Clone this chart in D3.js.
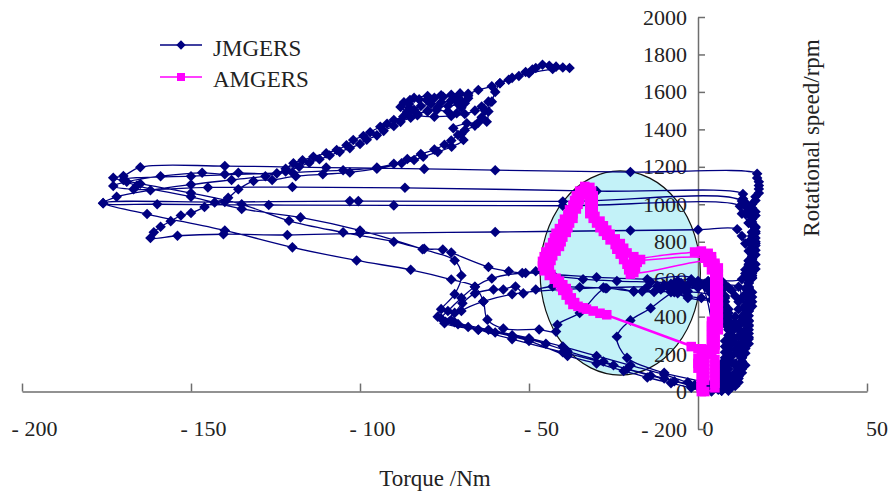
<!DOCTYPE html>
<html><head><meta charset="utf-8">
<script src="https://cdn.jsdelivr.net/npm/d3@7"></script>
<style>body{margin:0;background:#fff}svg{display:block}text{font-family:"Liberation Serif","Times New Roman",serif;fill:#222}</style>
</head><body><svg id="c" width="890" height="492"></svg>
<script>
const seriesNames = ["JMGERS", "AMGERS"];
const xTicks = [-200, -150, -100, -50, 0, 50];
const yTicks = [-200, 0, 200, 400, 600, 800, 1000, 1200, 1400, 1600, 1800, 2000];
const xTitle = "Torque /Nm";
const yTitle = "Rotational speed/rpm";
// highlighted region (torque, speed) centre and radii
const ellipseCentre = [-23, 633];
const ellipseRadii = [23.7, 545];

// JMGERS: [torque Nm, speed rpm]
const jmgers = [
[4,0],[7,5],[9,12],[10,25],[11,40],[11,60],[12,80],[12,100],[12,123],[13,140],[13,160],[13,180],[13,200],[13,215],[13,230],[14,250],[14,270],[15,290],[15,310],[15,330],[15,350],[15,375],[14,395],[14,420],[14,440],[14,460],[15,480],[15,500],[14,520],[15,540],[15,560],[15,580],[15,600],[16,620],[16,640],[15,660],[15,680],[15,697],[16,720],[16,740],[16,760],[16,780],[17,800],[17,820],[17,845],[17,875],[16,895],[16,920],[17,940],[17,960],[16,980],[16,1000],[17,1020],[17,1040],[18,1060],[18,1082],[18,1100],[18,1120],[17.5,1140],[17.5,1163],
[-20,1172],[-60,1182],[-81,1189],[-110,1196],[-140,1204],[-165,1198],[-170,1151],[-173,1141],[-165,1110],[-150,1060],[-135,1000],[-121,912],[-105,850],[-90,800],[-81,762],[-75.5,758],[-73,742],[-62,665],[-56,642],[-51,633],[-48,642],[-43,620],[-34,600],[-24,590],[-14,585],[-7,580],[-1,575],[5,570],
[7,540],[7,520],[8,500],[8,480],[8,460],[9,440],[9,420],[9,400],[9,380],[10,360],[10,340],[10,320],[10,300],[10,280],[10,260],[9,240],[9,220],[9,200],[9,180],[8,160],[8,140],[8,120],[8,100],[7,80],[7,60],[7,45],[7,30],[6,10],
[9,5],[11,30],[12,50],[12,70],[13,100],[13,120],[14,140],[13,160],[13,180],[14,205],[14,230],[15,255],[15,280],[14,305],[14,330],[15,355],[15,380],[15,405],[15,430],[16,455],[16,480],[16,505],[16,530],[15,555],[15,580],[16,605],[16,630],[17,655],[17,680],[16,705],[16,730],[17,755],[17,780],[16,805],[16,830],[17,855],[17,880],[16,905],[16,930],[15,950],[15,970],[14,990],[14,1010],[13.3,1030],[13.3,1055],
[-30,1070],[-86.7,1088],[-120,1092],[-145,1090],[-167,1080],[-173,1098],[-169,1120],[-159,1150],[-146.7,1168],[-140,1160],[-136,1168],[-124.6,1165],
[-122,1190],[-119.7,1219],[-117,1235],[-113.8,1254],[-110,1272],[-106.9,1290],[-104,1315],[-102,1343],[-99,1365],[-97,1385],[-94,1414],[-92,1430],[-90,1450],[-87.2,1468],[-86,1490],[-85.5,1515],[-85.5,1535],[-85.2,1557],[-82.5,1560],[-80.3,1557],[-78,1568],[-75.4,1574],[-73,1585],[-70.4,1592],[-68,1580],[-68,1566],[-69,1540],[-70,1515],[-71.4,1486],[-74,1495],[-77.3,1503],[-80,1495],[-83.2,1486],[-84,1505],[-82,1525],[-79,1535],[-76,1545],[-73,1555],[-71,1570],[-68,1590],[-65,1610],[-61,1630],[-58.6,1646],[-56,1665],[-53,1685],[-51,1706],[-49,1720],[-48,1728],[-46,1745],[-44,1740],[-42,1735],[-40,1730],[-38,1728],[-43,1722],[-50,1700],[-55,1675],[-58.6,1646],[-60,1600],[-61,1548],[-62,1495],[-62.5,1441],[-65,1436],[-68.4,1432],[-72.4,1406],[-70,1375],[-69.4,1343],[-72.9,1307],
[-77,1280],[-81.3,1254],[-84,1236],[-87.7,1219],[-95,1190],[-103,1170],[-111,1160],[-119,1150],[-126,1130],[-131.5,1124],[-136,1080],[-139,1035],[-143,1010],[-146,985],[-150,953],[-153,940],[-156,910],[-159,880],[-161,850],[-162,820],
[-154,832],[-140.4,840],[-121.5,836],[-100,845],[-60,852],[-20,860],[0,864],[11.6,867],
[13,830],[14,790],[15,750],[16,710],[15,670],[14,630],[13,600],[7,590],[3,588],[0,585],[-5,580],[-9,560],[-11,545],[-8,530],[-4,540],[0,555],[3,545],[6,530],[8,510],[5,495],[1,500],[-3,510],[-6,525],[-10,570],[-6,590],[-2,600],[3,590],[7,575],[9,555],[6,560],[2,565],[-3,570],[-8,575],[-12,565],[-7,550],[-3,535],[4,520],[7,510],[4,490],[-3,500],[-7,530],
[-13,532],[-19,535],[-27,552],[-35,557],[-43,561],[-48,545],[-51.7,524],[-54,561],[-57.6,545],[-60.5,545],[-66,524],[-69.7,471],[-72,420],[-74.7,373],[-68,345],[-60,315],[-50,270],[-38.6,190],[-30,150],[-22,110],[-15,75],[-8,45],[-2,20],[4,5],
[8,20],[10,60],[11,100],[11,150],[12,200],[12,250],[13,300],[12,350],[13,400],[14,450],[13,500],[14,550],[15,600],[14,650],[15,700],[16,750],[15,800],[16,850],[15,900],[14,950],[13,1017],
[-40,1015],[-100.5,1017],[-103,1017],[-140,1012],[-176,1006],
[-163,948],[-140,860],[-120,770],[-101,700],[-85,650],[-73,598],[-66,560],[-63.5,481],[-62.3,384],[-57.6,336],[-47,331],[-42,320],[-41.6,357],[-35,420],[-27.4,552],[-19,535],[-16.5,535],[-5,560],[2,575],
[6,540],[7,510],[7,480],[8,450],[8,420],[8,390],[8,360],[9,330],[9,300],[8,270],[8,240],[8,210],[8,180],[7,150],[7,120],[6,90],[6,60],[5,40],[5,20],
[9,30],[11,80],[12,130],[13,190],[13,250],[14,310],[14,370],[15,430],[15,490],[15,550],[16,610],[16,670],[17,730],[17,790],[16,850],[15,900],[13,950],[12.4,990],
[-40,992],[-90,994],[-127,996],[-160,1000],[-176,1006],[-172,1040],[-162,1075],[-150,1105],[-138,1130],[-128,1150],[-122,1175],[-118,1200],[-115,1222],[-112,1240],[-109,1260],[-106,1280],[-103,1300],[-100,1322],[-98,1345],[-95,1368],[-93,1392],[-90,1418],[-88,1440],[-85,1462],[-83,1480],[-80,1500],[-77,1518],[-74,1525],[-71,1535],[-70,1550],[-72,1565],[-76,1582],[-80,1578],[-84,1568],[-87,1545],[-88,1520],[-86,1495],[-83,1475],[-78,1468],[-73,1472],[-69,1482],[-66,1500],[-64,1522],[-62,1548],
[-63,1500],[-64,1465],[-66,1420],[-69,1395],[-71,1370],[-73,1340],[-75,1318],[-78,1292],[-82,1268],[-86,1242],[-90,1216],[-95,1196],[-105,1182],[-120,1170],[-150,1150],[-170,1130],[-166,1100],[-150,1040],[-135,975],[-117.6,930],[-100,860],[-81.5,760],[-72,700],[-70,620],[-72,520],[-76,440],[-77,400],[-72,370],[-62,330],[-50,285],[-40,240],[-30,190],[-20,140],[-10,90],[-3,50],[2,30],
[3,40],[-10,100],[-21,180],[-24,293],[-20,380],[-14,445],[-7,534],[0,560],[8,570],[12,560],
[13,500],[14,440],[13,380],[14,320],[13,260],[12,200],[11,140],[10,80],[9,30],[7,5],
[0,590],[-15,600],[-30,610],[-43,625],[-52,633],[-61,604],[-66,560],[-70,500],[-74,430],[-76,390],[-75,365],[-65,330],[-55,300],[-45,255],[-38.6,215],[-28,160],[-21,120],[-14,85],[-7,55],[-1,35],[5,25],
[0,25],[-10,70],[-25,140],[-40,210],[-55,280],[-65,330],[-71,360],[-73,380],[-70,430],[-63.5,481],[-55,520],[-40,545],[-28,555],[-15,560],[-5,565],[3,560],
[10,540],[11,510],[12,480],[12,440],[11,400],[11,365],[12,330],[12,295],[11,260],[11,225],[10,190],[10,155],[9,120],[9,90],[8,60],[7,35],[6,15]
];

// AMGERS: [torque Nm, speed rpm]
const amgers = [
[1,0],[1,20],[1,40],[2,60],[2,80],[2,100],[2,120],[2,140],[2,160],[2,180],[2,200],[3,225],[4,250],[4,275],[4,300],[4,325],[4,350],[4,375],[5,400],[5,425],[5,450],[5,475],[5,500],[5,525],[5,550],[5,575],[5,600],[5,625],[5,650],[5,675],[4,700],[4,720],[3,738],[1,750],[-1,745],
[-18,702],[-19,680],[-20,655],[-20,627],
[-20.5,650],[-21,680],[-22,705],[-23,734],[-24,760],[-24.5,785],[-26,810],[-27,835],[-28,855],[-29,875],[-30,900],[-31,925],[-32,950],[-32,975],[-32,1000],[-32,1030],[-32,1055],[-32.5,1075],[-32.7,1088],
[-34,1075],[-34.5,1050],[-35,1025],[-35.5,1000],[-36,975],[-37,950],[-37,925],[-38,900],[-38.5,875],[-39,850],[-40,825],[-40.5,800],[-41,775],[-42,750],[-43,725],[-43.5,700],[-44,675],[-44,650],[-43.5,625],[-42,605],[-41,590],[-40,570],[-39,550],[-38.5,525],[-37.5,500],[-36.5,475],[-35.5,455],
[-33,440],[-29,418],
[-2,240],[0,228],[1,200],[0,175],[0,150],[0,125],[1,100],[1,75],[1,50],[1,25],[2,0],
[5,20],[5,45],[5,70],[5,95],[5,120],[5,145],[5,170],[4,200],[5,225],[5,250],[5,275],[5,300],[6,330],[6,360],[6,390],[6,420],[6,450],[6,480],[6,510],[6,540],[6,570],[6,600],[6,630],[6,660],[5,685],[3,700],
[-19,635],[-18.5,660],[-18,690],[-17,705],[-19,720],[-21,740],[-22,765],[-23,790],[-24.5,815],[-26,840],[-27,862],[-28,885],[-29,910],[-30.5,935],[-31,960],[-31,990],[-31,1020],[-31,1045],[-31.5,1070],[-32,1090],
[-33.5,1095],[-35,1070],[-36,1045],[-36.5,1020],[-37,995],[-38,970],[-38.5,945],[-39.5,920],[-40,895],[-41,870],[-42,845],[-42.5,820],[-43,795],[-44,770],[-45,745],[-45.5,720],[-46,695],[-46,670],[-45.5,645],[-44,620],[-42.5,600],[-41.5,580],[-40.5,560],[-40,540],[-39,515],[-38,490],[-37,465],[-34,447],[-31,430],[-27,410],
[1,228],[4,215],
[5,250],[5,300],[5,350],[5,400],[5,450],[5,500],[5,550],[5,600],[4,650],[3,690],[2,712],
[-18,698]
];

const svg = d3.select("#c");
const x = d3.scaleLinear().domain([-200, 50]).range([22, 867]);
const y = d3.scaleLinear().domain([-200, 2000]).range([429, 17]);

// ellipse highlight
svg.append("ellipse")
  .attr("cx", x(ellipseCentre[0])).attr("cy", y(ellipseCentre[1]))
  .attr("rx", x(ellipseCentre[0] + ellipseRadii[0]) - x(ellipseCentre[0]))
  .attr("ry", y(ellipseCentre[1] - ellipseRadii[1]) - y(ellipseCentre[1]))
  .attr("fill", "#c3f2f8").attr("stroke", "#111").attr("stroke-width", 1.2);

const fmt = d => d < 0 ? "- " + Math.abs(d) : String(d);
const axisColor = "#6e6e6e";

const gx = svg.append("g").attr("transform", `translate(0,${y(0)})`)
  .call(d3.axisBottom(x).tickValues(xTicks).tickFormat(fmt).tickSizeInner(-8).tickSizeOuter(0).tickPadding(29));
gx.selectAll("text").attr("font-size", 22).attr("dx", d => d < 0 ? 12 : 9.5);

const gy = svg.append("g").attr("transform", `translate(${x(0)},0)`)
  .call(d3.axisLeft(y).tickValues(yTicks).tickFormat(fmt).tickSizeInner(-7).tickSizeOuter(0).tickPadding(11));
gy.selectAll("text").attr("font-size", 22);

[gx, gy].forEach(g => {
  g.selectAll("path,line").attr("stroke", axisColor).attr("stroke-width", 1.5);
  g.selectAll("text").attr("fill", "#222").style("font-family", '"Liberation Serif", serif');
  g.attr("font-family", null);
});

svg.append("text").attr("x", 435).attr("y", 486).attr("text-anchor", "middle")
  .attr("font-size", 23).text(xTitle);
svg.append("text").attr("transform", "translate(819,138) rotate(-90)").attr("text-anchor", "middle")
  .attr("font-size", 23).text(yTitle);

const navy = "#000080", mag = "#ff00ff";
const line = d3.line().x(d => x(d[0])).y(d => y(d[1])).curve(d3.curveCatmullRom.alpha(0.5));
const diamond = d3.symbol(d3.symbolSquare, 56)();
const square = d3.symbol(d3.symbolSquare, 92)();

svg.append("path").datum(jmgers).attr("d", line).attr("fill", "none").attr("stroke", navy).attr("stroke-width", 1.3);
svg.append("g").selectAll("path").data(jmgers).join("path")
  .attr("d", diamond).attr("transform", d => `translate(${x(d[0])},${y(d[1])}) rotate(45)`).attr("fill", navy);

svg.append("path").datum(amgers).attr("d", line).attr("fill", "none").attr("stroke", mag).attr("stroke-width", 1.5);
svg.append("g").selectAll("path").data(amgers).join("path")
  .attr("d", square).attr("transform", d => `translate(${x(d[0])},${y(d[1])})`).attr("fill", mag);

// legend
const leg = svg.append("g");
const legItems = [
  {name: seriesNames[0], color: navy, sym: d3.symbol(d3.symbolSquare, 44)(), rot: 45, cy: 45, ty: 56},
  {name: seriesNames[1], color: mag, sym: d3.symbol(d3.symbolSquare, 64)(), rot: 0, cy: 77, ty: 87}
];
legItems.forEach(it => {
  leg.append("line").attr("x1", 160).attr("x2", 202).attr("y1", it.cy).attr("y2", it.cy)
    .attr("stroke", it.color).attr("stroke-width", 1.5);
  leg.append("path").attr("d", it.sym).attr("transform", `translate(181,${it.cy}) rotate(${it.rot})`).attr("fill", it.color);
  leg.append("text").attr("x", 213).attr("y", it.ty).attr("font-size", 23).text(it.name);
});
</script></body></html>
